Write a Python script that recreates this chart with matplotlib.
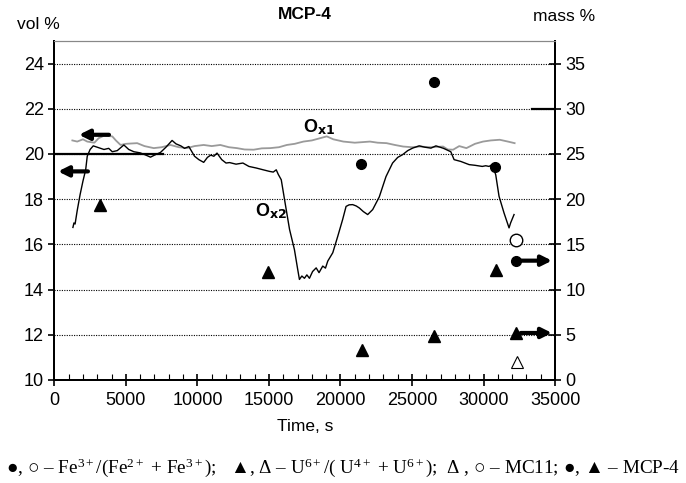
import numpy as np
import matplotlib
matplotlib.use('Agg')
import matplotlib.pyplot as plt
from matplotlib.ticker import MultipleLocator

plt.rcParams['font.family'] = ['Liberation Sans', 'DejaVu Sans']
plt.rcParams['mathtext.fontset'] = 'custom'
plt.rcParams['mathtext.rm'] = 'Liberation Serif'
plt.rcParams['mathtext.it'] = 'Liberation Serif'
plt.rcParams['mathtext.fallback'] = 'stix'

# Ox2 (black curve), vol %
ox2_t = [1300, 1370, 1450, 1600, 1800, 2000, 2190, 2300, 2500, 2720, 3000, 3470, 3800, 4050,
         4400, 4860, 5200, 5560, 6000, 6400, 6720, 7000, 7420, 7800, 8230, 8500, 8840, 9100,
         9400, 9800, 10100, 10440, 10700, 10930, 11150, 11370, 11700, 12000, 12250, 12700,
         13180, 13600, 14110, 14600, 15040, 15300, 15510, 15650, 15860, 16090, 16440, 16780,
         17010, 17130, 17300, 17480, 17650, 17830, 18050, 18300, 18500, 18760, 18950, 19110,
         19460, 19810, 20150, 20390, 20600, 20850, 21100, 21320, 21600, 21900, 22250, 22710,
         23180, 23640, 24000, 24340, 24700, 25040, 25500, 25900, 26320, 26670, 27200, 27710,
         27940, 28410, 28700, 28990, 29400, 29910, 30150, 30380, 30610, 30850, 31080, 31430,
         31780, 31890, 32130]
ox2_v = [16.75, 16.95, 16.9, 17.5, 18.2, 18.8, 19.3, 19.9, 20.2, 20.36, 20.3, 20.2, 20.25, 20.1,
         20.15, 20.4, 20.2, 20.1, 20.05, 19.95, 19.86, 19.95, 20.07, 20.3, 20.6, 20.45, 20.36, 20.25,
         20.33, 19.9, 19.75, 19.63, 19.85, 19.95, 19.9, 20.04, 19.75, 19.6, 19.62, 19.55,
         19.6, 19.45, 19.38, 19.3, 19.23, 19.2, 19.3, 19.1, 18.86, 17.98, 16.66, 15.77,
         14.89, 14.45, 14.6, 14.5, 14.65, 14.5, 14.8, 14.96, 14.75, 15.04, 14.95, 15.26,
         15.63, 16.36, 17.1, 17.68, 17.75, 17.76, 17.7, 17.61, 17.45, 17.32, 17.54, 18.1,
         19.0, 19.6, 19.85, 19.97, 20.15, 20.26, 20.36, 20.3, 20.26, 20.36, 20.25, 20.1,
         19.75, 19.67, 19.6, 19.53, 19.5, 19.45, 19.48, 19.45, 19.53, 19.08, 18.13, 17.39,
         16.73, 16.95, 17.32]

# Ox1 (grey curve), vol %
ox1_t = [1260, 1600, 2000, 2300, 2800, 3100, 3470, 4050, 4300, 4630, 5000, 5790, 6300, 6950,
         7500, 8120, 8700, 9280, 9800, 10440, 11000, 11600, 12200, 12760, 13300, 13930, 14500,
         15090, 15700, 16250, 16800, 17410, 18000, 18580, 19040, 19500, 20200, 21000, 22060,
         22600, 23220, 23800, 24380, 25000, 25550, 26300, 27170, 27500, 27870, 28300, 28800,
         29400, 29960, 30500, 31130, 31700, 32170]
ox1_v = [20.6, 20.55, 20.65, 20.55, 20.5, 20.7, 20.81, 20.78, 20.6, 20.4, 20.45, 20.48, 20.35, 20.26,
         20.3, 20.4, 20.3, 20.26, 20.35, 20.4, 20.35, 20.4, 20.3, 20.26, 20.2, 20.19, 20.25,
         20.26, 20.3, 20.4, 20.45, 20.55, 20.6, 20.7, 20.78, 20.65, 20.55, 20.5, 20.55,
         20.5, 20.48, 20.4, 20.33, 20.3, 20.33, 20.3, 20.33, 20.2, 20.19, 20.35, 20.26,
         20.45, 20.55, 20.6, 20.63, 20.55, 20.48]

# mass % points
fe_mcp_t = [21440, 26550, 30780, 32270]
fe_mcp_v = [23.9, 33.0, 23.6, 13.2]
fe_mc11_t = [32290]
fe_mc11_v = [15.5]
u_mcp_t = [3190, 14920, 21500, 26550, 30850, 32290]
u_mcp_v = [19.4, 12.0, 3.3, 4.85, 12.2, 5.2]
u_mc11_t = [32360]
u_mc11_v = [2.0]

fig = plt.figure(figsize=(6.86, 4.83), dpi=100)
ax = fig.add_axes([0.0792, 0.2133, 0.73, 0.7018])
ax2 = ax.twinx()

ax.set_xlim(0, 35000)
ax.set_ylim(10, 25)
ax2.set_ylim(0, 37.5)

for y in range(12, 25, 2):
    ax.axhline(y, color='black', lw=0.8, ls=(0, (1, 1.2)), zorder=1)

ax.plot([0, 7600], [20, 20], color='black', lw=1.6, zorder=2)
ax2.plot([33380, 35000], [30, 30], color='black', lw=1.6, zorder=2)

ax.plot(ox1_t, ox1_v, color='#9a9a9a', lw=1.3, zorder=3)
ax.plot(ox2_t, ox2_v, color='black', lw=1.0, zorder=4)

ax2.plot(fe_mcp_t, fe_mcp_v, 'o', color='black', ms=7, zorder=5)
ax2.plot(fe_mc11_t, fe_mc11_v, 'o', mfc='white', mec='black', mew=1.0, ms=9, zorder=5)
ax2.plot(u_mcp_t, u_mcp_v, '^', color='black', ms=8, zorder=5)
ax2.plot(u_mc11_t, u_mc11_v, '^', mfc='white', mec='black', mew=0.8, ms=8, zorder=5)

arr = dict(arrowstyle='-|>', lw=3, color='black', mutation_scale=15, shrinkA=0, shrinkB=0)
ax.annotate('', xy=(1720, 20.85), xytext=(3820, 20.85), arrowprops=arr)
ax.annotate('', xy=(260, 19.23), xytext=(2350, 19.23), arrowprops=arr)
ax2.annotate('', xy=(34780, 13.2), xytext=(32270, 13.2), arrowprops=arr)
ax2.annotate('', xy=(34780, 5.2), xytext=(32600, 5.2), arrowprops=arr)

ax.text(17400, 21.2, r'O$_{\mathbf{x1}}$', fontsize=13, fontweight='bold', va='center')
ax.text(14000, 17.45, r'O$_{\mathbf{x2}}$', fontsize=13, fontweight='bold', va='center')

ax.xaxis.set_major_locator(MultipleLocator(5000))
ax.xaxis.set_minor_locator(MultipleLocator(1000))
ax.yaxis.set_major_locator(MultipleLocator(2))
ax2.set_yticks(range(0, 36, 5))
ax.tick_params(axis='x', which='major', direction='inout', length=8, width=1.2, labelsize=13, pad=5)
ax.tick_params(axis='x', which='minor', direction='in', length=4, width=0.8)
ax.tick_params(axis='y', direction='out', length=4, width=1.2, labelsize=13)
ax2.tick_params(axis='y', direction='inout', length=8, width=1.2, labelsize=13)

for a in (ax, ax2):
    a.spines['top'].set_color('#888888')
    a.spines['top'].set_linewidth(0.8)
    a.spines['left'].set_linewidth(1.4)
    a.spines['bottom'].set_linewidth(1.4)
    a.spines['right'].set_linewidth(1.4)

ax.set_xlabel('Time, s', fontsize=12.5, labelpad=7)
ax.set_title('MCP-4', fontsize=12.5, fontweight='bold', pad=16)
fig.text(0.025, 0.95, 'vol %', fontsize=12.5, va='center')
fig.text(0.777, 0.965, 'mass %', fontsize=12.5, va='center')

caption = (r'$\mathrm{●}$, $\mathrm{○}$ – Fe$^{3+}$/(Fe$^{2+}$ + Fe$^{3+}$);   '
           r'$\mathrm{▲}$, $\mathrm{Δ}$ – U$^{6+}$/( U$^{4+}$ + U$^{6+}$);  '
           r'$\mathrm{Δ}$ , $\mathrm{○}$ – MC11; $\mathrm{●}$, $\mathrm{▲}$ – MCP-4')
fig.text(0.5, 0.032, caption, fontsize=13.8, family='Liberation Serif', ha='center', va='center')

fig.savefig('out.png', dpi=100)
